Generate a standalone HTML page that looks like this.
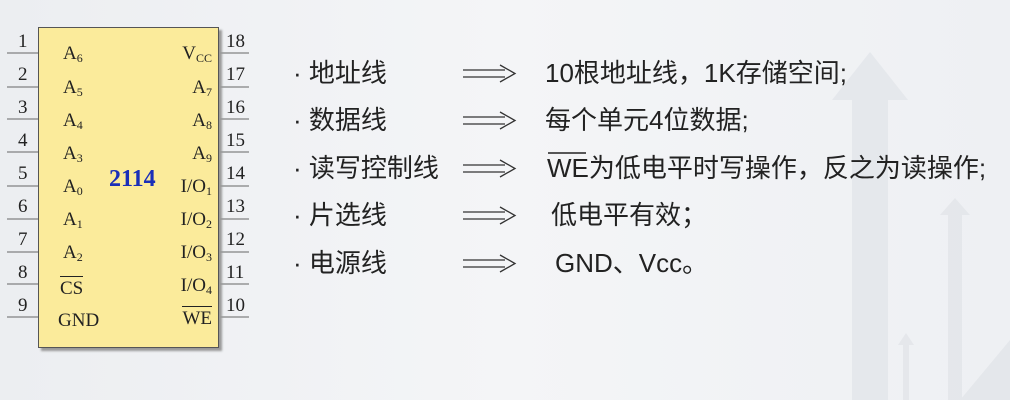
<!DOCTYPE html>
<html><head><meta charset="utf-8"><style>
body{margin:0;width:1010px;height:400px;overflow:hidden;background:linear-gradient(90deg,#eceef1 0%,#f4f5f7 50%,#eef0f3 100%);position:relative;font-family:"Liberation Serif",serif;}
.chip{position:absolute;left:38px;top:27px;width:179px;height:319px;background:#fbeb9b;border:1px solid #555;box-shadow:3px 3px 2px #999;}
.t{position:absolute;font-size:19px;color:#222;line-height:1;}
sub{font-size:12px;vertical-align:-3px}
.cn{font-family:"Liberation Sans","Noto Sans CJK SC",sans-serif;font-size:26px;color:#222;position:absolute;line-height:1;white-space:nowrap}
</style></head><body>
<svg width="1010" height="400" style="position:absolute;left:0;top:0">
<g fill="#dde0e5" opacity="0.55">
<polygon points="852,400 852,100 832,100 870,52 908,100 888,100 888,400"/>
<polygon points="948,400 948,215 940,215 955,198 970,215 962,215 962,400"/>
<polygon points="903,400 903,345 898,345 906,333 914,345 909,345 909,400"/>
<polygon points="960,400 1010,340 1010,400"/>
</g>
<g stroke="#666" stroke-width="1">
<line x1="7" y1="53" x2="38" y2="53"/><line x1="7" y1="87" x2="38" y2="87"/><line x1="7" y1="119" x2="38" y2="119"/><line x1="7" y1="152" x2="38" y2="152"/><line x1="7" y1="186" x2="38" y2="186"/><line x1="7" y1="219" x2="38" y2="219"/><line x1="7" y1="252" x2="38" y2="252"/><line x1="7" y1="284" x2="38" y2="284"/><line x1="7" y1="317" x2="38" y2="317"/>
<line x1="218" y1="53" x2="249" y2="53"/><line x1="218" y1="87" x2="249" y2="87"/><line x1="218" y1="119" x2="249" y2="119"/><line x1="218" y1="152" x2="249" y2="152"/><line x1="218" y1="186" x2="249" y2="186"/><line x1="218" y1="219" x2="249" y2="219"/><line x1="218" y1="252" x2="249" y2="252"/><line x1="218" y1="284" x2="249" y2="284"/><line x1="218" y1="317" x2="249" y2="317"/>
</g>
<g fill="none" stroke="#333" stroke-width="1.3">
<path d="M463,70 H505 M463,77 H505 M500,65 L515,73.5 L500,82"/>
<path d="M463,117 H505 M463,124 H505 M500,112 L515,120.5 L500,129"/>
<path d="M463,165 H505 M463,172 H505 M500,160 L515,168.5 L500,177"/>
<path d="M463,212 H505 M463,219 H505 M500,207 L515,215.5 L500,224"/>
<path d="M463,260 H505 M463,267 H505 M500,255 L515,263.5 L500,272"/>
</g>
<line x1="548" y1="153" x2="586" y2="153" stroke="#222" stroke-width="1.5"/>
</svg>
<div class="chip"></div>
<div class="t" style="left:18px;top:32px">1</div><div class="t" style="left:18px;top:65px">2</div><div class="t" style="left:18px;top:98px">3</div><div class="t" style="left:18px;top:131px">4</div><div class="t" style="left:18px;top:164px">5</div><div class="t" style="left:18px;top:197px">6</div><div class="t" style="left:18px;top:230px">7</div><div class="t" style="left:18px;top:263px">8</div><div class="t" style="left:18px;top:296px">9</div>
<div class="t" style="left:226px;top:32px">18</div><div class="t" style="left:226px;top:65px">17</div><div class="t" style="left:226px;top:98px">16</div><div class="t" style="left:226px;top:131px">15</div><div class="t" style="left:226px;top:164px">14</div><div class="t" style="left:226px;top:197px">13</div><div class="t" style="left:226px;top:230px">12</div><div class="t" style="left:226px;top:263px">11</div><div class="t" style="left:226px;top:296px">10</div>
<div class="t" style="left:63px;top:44px">A<sub>6</sub></div><div class="t" style="left:63px;top:78px">A<sub>5</sub></div><div class="t" style="left:63px;top:111px">A<sub>4</sub></div><div class="t" style="left:63px;top:144px">A<sub>3</sub></div><div class="t" style="left:63px;top:177px">A<sub>0</sub></div><div class="t" style="left:63px;top:210px">A<sub>1</sub></div><div class="t" style="left:63px;top:243px">A<sub>2</sub></div>
<div class="t" style="left:60px;top:276px;border-top:1px solid #222;padding-top:2px">CS</div>
<div class="t" style="left:58px;top:311px">GND</div>
<div class="t" style="right:798px;top:44px">V<sub>CC</sub></div><div class="t" style="right:798px;top:78px">A<sub>7</sub></div><div class="t" style="right:798px;top:111px">A<sub>8</sub></div><div class="t" style="right:798px;top:144px">A<sub>9</sub></div><div class="t" style="right:798px;top:177px">I/O<sub>1</sub></div><div class="t" style="right:798px;top:210px">I/O<sub>2</sub></div><div class="t" style="right:798px;top:243px">I/O<sub>3</sub></div><div class="t" style="right:798px;top:276px">I/O<sub>4</sub></div>
<div class="t" style="right:798px;top:306px;border-top:1px solid #222;padding-top:2px">WE</div>
<div class="t" style="left:109px;top:167px;font-size:24px;font-weight:bold;color:#1a2fb8">2114</div>
<div class="cn" style="left:293px;top:60px">· 地址线</div>
<div class="cn" style="left:293px;top:107px">· 数据线</div>
<div class="cn" style="left:293px;top:155px">· 读写控制线</div>
<div class="cn" style="left:293px;top:202px">· 片选线</div>
<div class="cn" style="left:293px;top:250px">· 电源线</div>
<div class="cn" style="left:545px;top:60px">10根地址线，1K存储空间;</div>
<div class="cn" style="left:545px;top:107px">每个单元4位数据;</div>
<div class="cn" style="left:547px;top:155px">WE为低电平时写操作，反之为读操作;</div>
<div class="cn" style="left:551px;top:202px">低电平有效；</div>
<div class="cn" style="left:555px;top:250px">GND、Vcc。</div>
</body></html>
